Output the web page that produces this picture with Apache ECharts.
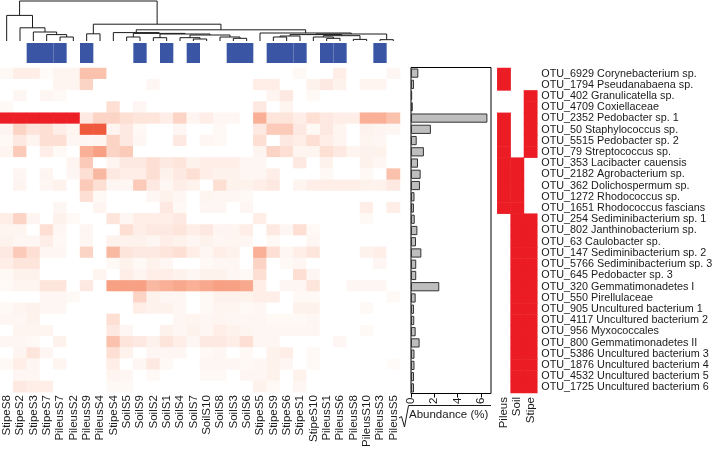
<!DOCTYPE html>
<html><head><meta charset="utf-8">
<script src="https://cdn.jsdelivr.net/npm/echarts@6/dist/echarts.min.js"></script>
<style>html,body{margin:0;padding:0;background:#fff}#c{width:722px;height:450px}</style>
</head><body><div id="c"></div>
<script>
const samples = ['StipeS8','StipeS2','StipeS3','StipeS7','PileusS7','PileusS2','PileusS9','PileusS4','StipeS4','SoilS5','SoilS9','SoilS2','SoilS1','SoilS4','SoilS7','SoilS10','SoilS8','SoilS3','SoilS6','StipeS5','StipeS9','StipeS6','StipeS1','StipeS10','PileusS1','PileusS6','PileusS8','PileusS10','PileusS3','PileusS5'];
const otus = ['OTU_6929 Corynebacterium sp.','OTU_1794 Pseudanabaena sp.','OTU_402 Granulicatella sp.','OTU_4709 Coxiellaceae','OTU_2352 Pedobacter sp. 1','OTU_50 Staphylococcus sp.','OTU_5515 Pedobacter sp. 2','OTU_79 Streptococcus sp.','OTU_353 Lacibacter cauensis','OTU_2182 Agrobacterium sp.','OTU_362 Dolichospermum sp.','OTU_1272 Rhodococcus sp.','OTU_1651 Rhodococcus fascians','OTU_254 Sediminibacterium sp. 1','OTU_802 Janthinobacterium sp.','OTU_63 Caulobacter sp.','OTU_147 Sediminibacterium sp. 2','OTU_5766 Sediminibacterium sp. 3','OTU_645 Pedobacter sp. 3','OTU_320 Gemmatimonadetes I','OTU_550 Pirellulaceae','OTU_905 Uncultured bacterium 1','OTU_4117 Uncultured bacterium 2','OTU_956 Myxococcales','OTU_800 Gemmatimonadetes II','OTU_5386 Uncultured bacterium 3','OTU_1876 Uncultured bacterium 4','OTU_4532 Uncultured bacterium 5','OTU_1725 Uncultured bacterium 6'];
const sqrtAbundance = [0.63,0.26,0.1,0.15,6.57,1.71,0.49,1.11,0.6,0.83,0.77,0.3,0.25,0.32,0.55,0.43,0.89,0.45,0.45,2.43,0.4,0.26,0.28,0.4,0.74,0.3,0.3,0.26,0.26];
const groups = ['Pileus','Soil','Stipe'];
const inPileus = [1,1,0,0,1,1,1,1,1,1,1,1,1,0,0,0,0,0,0,0,0,0,0,0,0,0,0,0,0];
const inSoil   = [0,0,0,0,0,0,0,0,1,1,1,1,1,1,1,1,1,1,1,1,1,1,1,1,1,1,1,1,1];
const inStipe  = [0,0,1,1,1,1,1,1,0,0,0,0,0,1,1,1,1,1,1,1,1,1,1,1,1,1,1,1,1];
const sampleMark = [0,0,1,1,1,0,1,0,0,0,1,0,1,0,1,0,0,1,1,0,1,1,1,0,1,1,0,0,1,0];
// hclust-style merges: negative = leaf (column order), positive = earlier merge; [a, b, height]
const dendroMerges = [
 [-5,-6,0.10],[-4,1,0.16],[-3,2,0.225],[-2,3,0.33],[-1,4,0.64],
 [-7,-8,0.18],
 [-10,-11,0.10],[-12,-13,0.083],[-15,-16,0.05],[-14,9,0.083],[-18,-19,0.067],[-17,11,0.10],
 [10,12,0.15],[8,13,0.175],[7,14,0.19],[-9,15,0.21],
 [-21,-22,0.10],[17,-23,0.125],[-25,-26,0.067],[-24,19,0.10],[-27,-28,0.04],[20,21,0.133],
 [18,22,0.16],[-29,-30,0.033],[23,24,0.175],[-20,25,0.2],
 [16,26,0.28],[6,27,0.42],[5,28,1.0]
];
const heat = [
 [.03,.08,.08,.02,.05,.05,.3,.3,0,0,0,0,0,0,0,0,0,0,0,0,0,0,.03,0,0,.08,0,0,0,.04],
 [0,0,0,0,.05,.05,.2,0,0,0,0,.04,0,0,0,0,0,0,0,.08,.08,0,0,.06,.1,.06,0,.05,.05,0],
 [0,.04,0,.04,.03,0,0,0,0,0,0,0,0,0,0,0,0,0,0,0,.05,.1,0,.03,0,0,0,0,0,0],
 [.03,0,0,0,0,0,0,0,.15,0,.04,0,0,0,0,0,0,0,0,.1,0,.05,0,0,0,0,0,0,0,0],
 [1,1,1,1,1,1,.1,.2,.2,.15,.12,.12,.08,.2,.05,.08,.04,.04,0,.4,.12,.12,.08,.15,.1,.08,.08,.4,.4,.3],
 [.05,.2,.12,.15,.08,.05,.75,.75,.05,.1,.03,0,0,.04,0,0,.03,0,0,.1,.25,.25,.1,.03,.1,.05,0,.06,.05,.04],
 [.03,.1,.05,.15,.15,.04,.04,.05,.2,.1,.04,0,0,.1,0,.04,.03,0,0,.15,0,.1,.08,.15,.08,.05,0,.05,.04,0],
 [.05,.25,0,.08,.03,0,.4,.5,.2,.25,0,0,0,0,0,0,0,0,0,.05,.2,.15,.05,.05,.15,.1,.05,.06,.06,0],
 [0,0,0,0,0,.05,.25,0,.05,.1,.1,.15,.1,.12,.06,.08,.08,.08,.04,.04,0,0,.1,0,.06,0,0,.06,.04,0],
 [0,.04,0,.05,0,.04,.15,.35,.1,.08,.08,.15,.06,.1,.15,.08,.06,.06,.04,.04,.08,0,0,0,.03,0,0,.03,0,.3],
 [0,.05,0,.04,.06,0,.25,.15,.04,.04,.25,.1,.04,.08,.06,0,.15,.06,.06,.08,.1,0,.05,.08,.08,.08,.08,.06,.06,.1],
 [0,0,0,0,0,0,.15,.03,0,0,0,.04,.06,.04,0,.05,.04,.04,.03,0,0,0,0,0,0,0,0,0,0,0],
 [0,0,0,0,.04,0,0,.05,0,0,0,0,.1,.03,0,.04,.04,0,.04,0,0,0,0,0,0,0,0,.08,0,.08],
 [.08,.2,.05,0,.06,.03,0,0,.12,.04,.08,.08,.08,.1,0,0,0,0,0,.08,0,0,0,0,0,0,0,.03,0,0],
 [.05,.05,0,.15,.04,0,.04,0,0,.15,.08,.1,.1,.12,.08,.1,.05,.05,.08,0,.1,.04,.15,.03,0,0,0,0,0,0],
 [.06,.04,.04,.08,.03,0,.04,0,.06,.06,.06,.04,.08,.06,.04,.06,.04,.05,.04,0,.03,0,0,.04,0,0,0,0,0,0],
 [.1,.25,.15,.04,.04,0,.2,0,.35,.12,.1,.1,.12,.15,.08,.04,.08,.06,0,.4,.15,.04,.08,.12,0,0,0,.06,.08,0],
 [.08,.12,.12,0,0,0,0,0,.03,.06,.03,.06,.04,0,0,.03,.04,.04,0,.2,0,.03,.04,0,0,0,0,0,.04,0],
 [.03,.06,.06,0,0,0,0,.05,0,.08,.05,.08,.08,.06,.04,.06,.06,.04,.03,.15,0,0,.15,.04,0,0,0,0,0,0],
 [.03,.05,.05,.12,.12,0,.1,0,.5,.5,.5,.35,.4,.45,.4,.45,.5,.5,.45,.08,0,.04,.04,.12,0,0,.04,.04,.04,0],
 [0,0,0,.04,.04,.03,0,0,0,0,.2,.06,.04,.04,0,.03,.06,.06,.06,.08,.08,0,.03,.03,0,0,0,0,0,.03],
 [.03,.05,.06,.04,.04,0,0,0,0,0,.08,.06,.06,.04,0,.03,.05,.05,.03,.04,0,0,.06,.06,0,0,0,.03,0,0],
 [.04,.04,.06,0,0,0,0,0,.15,0,0,0,0,.04,.05,.04,.05,.04,.04,.04,.03,.03,.03,.04,0,0,0,0,0,0],
 [0,.05,.05,.05,0,0,0,0,.1,.04,0,0,.06,.04,.06,.04,.08,.06,.05,.04,.04,.04,.04,.04,0,0,0,.03,0,0],
 [.04,.04,.03,0,.06,0,0,0,.3,.12,.1,.06,.12,.08,.04,.1,.1,.08,.15,.04,.04,0,0,0,0,.04,0,0,0,0],
 [0,.05,.12,.04,0,0,0,0,.15,.06,0,.04,.04,.04,0,.03,.04,0,.03,0,.06,.08,0,.03,0,0,0,0,0,0],
 [.03,.08,.04,0,.05,0,0,0,.08,0,.04,.1,.03,0,0,.04,.04,.04,.03,.04,.06,.04,0,.03,0,0,0,0,0,.02],
 [0,.04,.04,0,0,0,0,0,.05,.04,0,.03,0,0,0,.03,.03,0,.04,.04,.06,0,.06,0,0,0,0,0,0,0],
 [0,.1,.08,.08,0,0,0,0,.03,.03,0,0,0,0,0,0,0,0,0,.06,.03,0,.04,0,0,0,0,0,0,0]
];

// ---- build derived structures ----
const heatData = [];
heat.forEach((row, r) => row.forEach((v, c) => heatData.push([c, r, v])));
const memberData = [];
[inPileus, inSoil, inStipe].forEach((arr, g) => arr.forEach((v, r) => { if (v) memberData.push([g, r, 1]); }));
const nodePos = [];
const dendroSegs = dendroMerges.map((m) => {
  const get = (k) => k < 0 ? [-k - 1 + 0.5, 0] : nodePos[k - 1];
  const a = get(m[0]), b = get(m[1]);
  nodePos.push([(a[0] + b[0]) / 2, m[2]]);
  return [a[0], a[1], b[0], b[1], m[2]];
});

const FONT = '"Liberation Sans", Arial, Helvetica, sans-serif';
const chart = echarts.init(document.getElementById('c'), null, {renderer: 'canvas'});
const hide = {show: false};
chart.setOption({
  animation: false,
  backgroundColor: '#fff',
  textStyle: {fontFamily: FONT},
  grid: [
    {left: 0, top: 1, width: 400, height: 40},
    {left: 0, top: 43, width: 400, height: 20},
    {left: 0, top: 68, width: 400, height: 325},
    {left: 411, top: 67.5, width: 80, height: 326, show: true, borderColor: '#000', borderWidth: 1, backgroundColor: 'transparent'},
    {left: 497.3, top: 68, width: 40, height: 325}
  ],
  xAxis: [
    {gridIndex: 0, type: 'value', min: 0, max: 30, show: false},
    {gridIndex: 1, type: 'category', data: samples, show: false},
    {gridIndex: 2, type: 'category', data: samples, position: 'bottom',
     axisLine: hide, axisTick: hide, splitLine: hide,
     axisLabel: {rotate: 90, interval: 0, margin: 3, fontSize: 11.5, color: '#1a1a1a', fontFamily: FONT}},
    {gridIndex: 3, type: 'value', min: 0, max: 6.88, interval: 2, position: 'bottom',
     axisLine: hide, splitLine: hide,
     axisTick: {show: true, length: 4, lineStyle: {color: '#000'}},
     axisLabel: {rotate: 90, margin: 4, fontSize: 11.5, color: '#1a1a1a', fontFamily: FONT, showMaxLabel: false}},
    {gridIndex: 4, type: 'category', data: groups, position: 'bottom',
     axisLine: hide, axisTick: hide, splitLine: hide,
     axisLabel: {rotate: 90, interval: 0, margin: 4, fontSize: 11.5, color: '#1a1a1a', fontFamily: FONT}}
  ],
  yAxis: [
    {gridIndex: 0, type: 'value', min: 0, max: 1, show: false},
    {gridIndex: 1, type: 'value', min: 0, max: 1, show: false},
    {gridIndex: 2, type: 'category', data: otus, inverse: true, show: false},
    {gridIndex: 3, type: 'category', data: otus, inverse: true, show: false},
    {gridIndex: 4, type: 'category', data: otus, inverse: true, position: 'right',
     axisLine: hide, axisTick: hide, splitLine: hide,
     axisLabel: {interval: 0, margin: 4, fontSize: 10.8, color: '#1a1a1a', fontFamily: FONT}}
  ],
  visualMap: [
    {type: 'continuous', seriesIndex: 2, min: 0, max: 1, show: false,
     inRange: {color: ['#FFFFFF', '#FDE4DA', '#FBCAB8', '#F9B49C', '#F7A083', '#F47E60', '#F05A3C', '#EE3A30', '#EC1E26']}},
    {type: 'continuous', seriesIndex: 4, min: 0, max: 1, show: false, inRange: {color: ['#EC1C24', '#EC1C24']}}
  ],
  series: [
    {type: 'custom', xAxisIndex: 0, yAxisIndex: 0, data: dendroSegs, silent: true,
     renderItem: (params, api) => {
       const p1 = api.coord([api.value(0), api.value(1)]);
       const p2 = api.coord([api.value(0), api.value(4)]);
       const p3 = api.coord([api.value(2), api.value(4)]);
       const p4 = api.coord([api.value(2), api.value(3)]);
       return {type: 'polyline', shape: {points: [p1, p2, p3, p4]}, style: {stroke: '#1a1a1a', lineWidth: 1, fill: 'none'}};
     }},
    {type: 'bar', xAxisIndex: 1, yAxisIndex: 1, data: sampleMark.map(v => v ? 1 : null), barCategoryGap: '0%',
     itemStyle: {color: '#3B55A5'}, silent: true},
    {type: 'heatmap', xAxisIndex: 2, yAxisIndex: 2, data: heatData, silent: true},
    {type: 'bar', xAxisIndex: 3, yAxisIndex: 3, data: sqrtAbundance, barCategoryGap: '18%',
     itemStyle: {color: '#BEBEBE', borderColor: '#333', borderWidth: 1}, silent: true},
    {type: 'heatmap', xAxisIndex: 4, yAxisIndex: 4, data: memberData, silent: true}
  ],
  graphic: [
    {type: 'polyline', shape: {points: [[399, 418], [401.5, 416.5], [404.5, 427], [408.5, 405.5], [491, 405.5]]},
     style: {stroke: '#1a1a1a', lineWidth: 1, fill: 'none'}},
    {type: 'text', left: 409, top: 409, style: {text: 'Abundance (%)', fontSize: 11.5, fontFamily: FONT, fill: '#1a1a1a'}}
  ]
});
</script></body></html>
